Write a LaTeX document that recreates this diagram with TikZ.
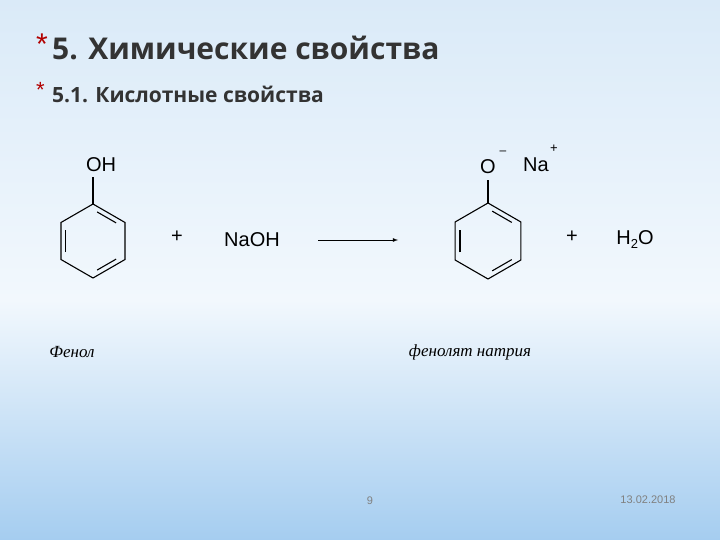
\documentclass[tikz,border=0pt]{standalone}
\usepackage{fontspec}
\usetikzlibrary{calc}
\setmainfont{Liberation Sans}
\newfontfamily\titlefont{Open Sans}
\newfontfamily\ifont{Liberation Serif}
\begin{document}
\begin{tikzpicture}[x=1pt,y=-1pt,
  bond/.style={line width=1.1pt,black},
  chem/.style={font=\fontsize{20}{20}\selectfont,inner sep=0pt},
  lbl/.style={font=\ifont\itshape\fontsize{17}{17}\selectfont,inner sep=0pt}]
\definecolor{bgtop}{RGB}{218,234,248}
\definecolor{bgmid}{RGB}{242,248,253}
\definecolor{bgbot}{RGB}{165,205,240}
\useasboundingbox (0,0) rectangle (720,540);
\shade[top color=bgtop,bottom color=bgmid] (0,0) rectangle (720,300);
\shade[top color=bgmid,bottom color=bgbot] (0,300) rectangle (720,540);
% titles
\node[anchor=west,inner sep=0pt,text=red!70!black,font=\fontsize{30}{30}\selectfont] (a1) at (36,44) {*};
\node[anchor=west,inner sep=0pt,font=\titlefont\bfseries\fontsize{30}{30}\selectfont,text=black!80] (t1) at (52,48) {5. Химические свойства};
\node[anchor=west,inner sep=0pt,text=red!70!black,font=\fontsize{22}{22}\selectfont] (a2) at (36,90) {*};
\node[anchor=west,inner sep=0pt,font=\titlefont\bfseries\fontsize{21}{21}\selectfont,text=black!80] (t2) at (52,94) {5.1. Кислотные свойства};
% ring 1
\coordinate (c1) at (93,241);
\foreach \i in {0,...,5} \coordinate (p\i) at ($(c1)+({-90+60*\i}:37)$);
\draw[bond] (p0)--(p1)--(p2)--(p3)--(p4)--(p5)--cycle;
\draw[bond] ($(p0)!0.15!(p1)!0.15!(c1)$) -- ($(p1)!0.15!(p0)!0.15!(c1)$);
\draw[bond] ($(p2)!0.15!(p3)!0.15!(c1)$) -- ($(p3)!0.15!(p2)!0.15!(c1)$);
\draw[bond] ($(p4)!0.15!(p5)!0.15!(c1)$) -- ($(p5)!0.15!(p4)!0.15!(c1)$);
\node[chem] (oh) at (101,165) {OH};
\coordinate (b1) at (93,177);
\draw[bond] (p0) -- (b1);
\node[chem] (plus1) at (177,237) {+};
\node[chem] (naoh) at (252,240) {NaOH};
\coordinate (ar1) at (318,240); \coordinate (ar2) at (398,240);
\draw[line width=0.8pt,-latex] (ar1) -- (ar2);
% ring 2
\coordinate (c2) at (488,241);
\foreach \i in {0,...,5} \coordinate (q\i) at ($(c2)+({-90+60*\i}:38)$);
\draw[bond] (q0)--(q1)--(q2)--(q3)--(q4)--(q5)--cycle;
\draw[bond] ($(q0)!0.15!(q1)!0.15!(c2)$) -- ($(q1)!0.15!(q0)!0.15!(c2)$);
\draw[bond] ($(q2)!0.15!(q3)!0.15!(c2)$) -- ($(q3)!0.15!(q2)!0.15!(c2)$);
\draw[bond] ($(q4)!0.15!(q5)!0.15!(c2)$) -- ($(q5)!0.15!(q4)!0.15!(c2)$);
\node[chem] (o) at (488,167) {O};
\coordinate (b2) at (488,180);
\draw[bond] (q0) -- (b2);
\node[chem,font=\fontsize{12}{12}\selectfont] (minus) at (503,153) {--};
\node[chem] (na) at (536,165) {Na};
\node[chem,font=\fontsize{13}{13}\selectfont] (naplus) at (554,149) {+};
\node[chem] (plus2) at (572,237) {+};
\node[chem] (h2o) at (635,240) {H\raisebox{-4pt}{\fontsize{13}{13}\selectfont 2}O};
% labels
\node[lbl] (fenol) at (72,352) {Фенол};
\node[lbl] (fenolyat) at (470,352) {фенолят натрия};
\node[inner sep=0pt,font=\fontsize{11}{11}\selectfont,text=gray] (pg) at (370,501) {9};
\node[inner sep=0pt,font=\fontsize{11}{11}\selectfont,text=gray] (dt) at (648,500) {13.02.2018};
\end{tikzpicture}
\end{document}
